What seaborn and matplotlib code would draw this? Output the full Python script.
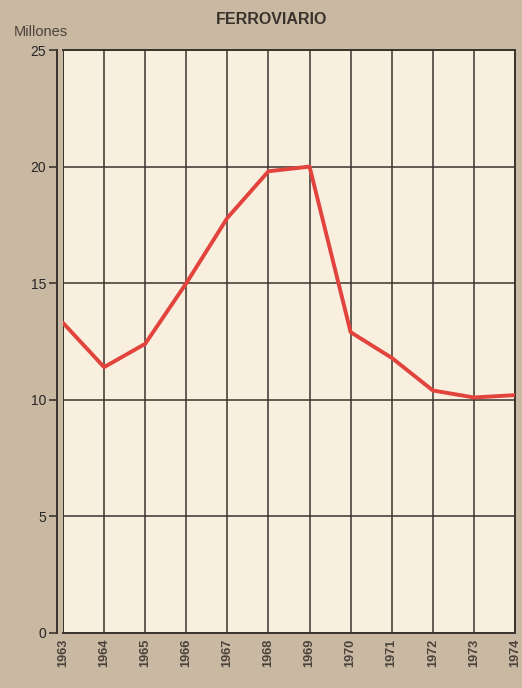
import matplotlib
matplotlib.use("Agg")
import matplotlib.pyplot as plt
import seaborn as sns
import pandas as pd

years = [1963, 1964, 1965, 1966, 1967, 1968, 1969, 1970, 1971, 1972, 1973, 1974]
millones = [13.3, 11.4, 12.4, 15.0, 17.8, 19.8, 20.0, 12.9, 11.8, 10.4, 10.1, 10.2]
y_ticks = [0, 5, 10, 15, 20, 25]

df = pd.DataFrame({"year": years, "millones": millones})

sns.set_style("white")
plt.rcParams['font.family'] = ['Liberation Sans', 'DejaVu Sans']

paper = "#c9b9a2"
cream = "#f8efdf"
ink = "#3b342e"

fig = plt.figure(figsize=(5.22, 6.88), dpi=100, facecolor=paper)
ax = fig.add_axes([63 / 522, 55 / 688, 452 / 522, 583 / 688])
ax.set_facecolor(cream)

sns.lineplot(data=df, x="year", y="millones", ax=ax, color="#e2433c", linewidth=2.8, zorder=3)

ax.set_xlim(1963, 1974)
ax.set_ylim(0, 25)
ax.set_xticks(years)
ax.set_xticklabels([str(y) for y in years], rotation=90, fontsize=9.2, fontweight="bold", color="#4a423b")
ax.set_yticks(y_ticks)
ax.set_yticklabels([str(t) for t in y_ticks], fontsize=8.5, fontweight="bold", color="#4a423b")
ax.grid(True, color=ink, linewidth=1.1)
ax.set_xlabel("")
ax.set_ylabel("")

for side in ["top", "right", "bottom"]:
    ax.spines[side].set_color(ink)
    ax.spines[side].set_linewidth(1.4)
ax.spines["left"].set_color(ink)
ax.spines["left"].set_linewidth(1.4)
ax.spines["left"].set_position(("outward", 4))
ax.axvline(1963, color=ink, linewidth=1.4)

ax.tick_params(axis="y", length=6, width=1.2, color=ink, pad=2, left=True)
ax.tick_params(axis="x", length=0, pad=4)

fig.text(272 / 522, 1 - 20 / 688, "FERROVIARIO", ha="center", va="center",
         fontsize=11.5, fontweight="bold", color="#3a332d")
fig.text(14 / 522, 1 - 32 / 688, "Millones", ha="left", va="center",
         fontsize=10.5, color="#4a423b")

fig.savefig("out.png", dpi=100, facecolor=paper)
